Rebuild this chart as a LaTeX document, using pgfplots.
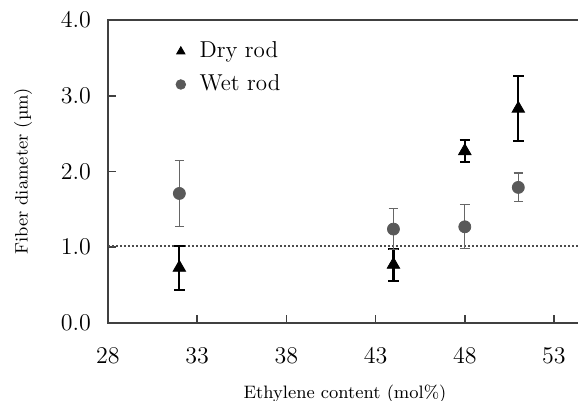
\documentclass[border=0pt]{standalone}
\usepackage{fontspec}
\usepackage{pgfplots}
\pgfplotsset{compat=1.18}

\begin{document}
\begin{tikzpicture}
% page size: 578x401 px at 0.5pt per px, axis box starts at (0,0)
\useasboundingbox (-54pt,-39pt) rectangle (235pt,161.5pt);
\begin{axis}[
    scale only axis,
    width=237pt, height=151.5pt,
    xmin=28, xmax=54.57,
    ymin=0, ymax=4,
    xtick={28,33,38,43,48,53},
    ytick={0,1,2,3,4},
    yticklabel style={xshift=-5pt, /pgf/number format/.cd, fixed, fixed zerofill, precision=1},
    tick align=inside,
    major tick length=4pt,
    xtick pos=bottom, ytick pos=left,
    axis line style={line width=0.9pt, black!75},
    tick style={line width=0.8pt, black!75},
    tick label style={font=\fontsize{11.5}{13}\selectfont},
    xticklabel style={yshift=-9pt},
    xlabel={Ethylene content (mol\%)},
    ylabel={Fiber diameter (µm)},
    label style={font=\small},
    xlabel style={yshift=-4pt},
    ylabel style={yshift=7.5pt},
    legend style={draw=none, fill=none, at={(0.13,0.955)}, anchor=north west,
        row sep=3pt, column sep=5pt, font=\fontsize{11.5}{13}\selectfont},
    legend image post style={mark size=2.4pt},
    legend cell align=left,
    clip=false,
]
\addplot[forget plot, densely dotted, line width=1pt, black!70] coordinates {(28,1.02) (54.4,1.02)};

\addplot[only marks, mark=triangle*, mark size=3.6pt, black,
    error bars/.cd, y dir=both, y explicit,
    error bar style={line width=1.1pt, black},
    error mark options={rotate=90, mark size=2.6pt, line width=1pt, black}]
coordinates {
    (32,0.73) +- (0,0.29)
    (44,0.77) +- (0,0.21)
    (48,2.27) +- (0,0.15)
    (51,2.83) +- (0,0.43)
};
\addlegendentry{Dry rod}

\addplot[only marks, mark=*, mark size=3pt, black!65, mark options={fill=black!65, draw=black!65},
    error bars/.cd, y dir=both, y explicit,
    error bar style={line width=0.6pt, black!60},
    error mark options={rotate=90, mark size=2.4pt, line width=0.6pt, black!60}]
coordinates {
    (32,1.71) +- (0,0.44)
    (44,1.24) +- (0,0.27)
    (48,1.27) +- (0,0.29)
    (51,1.79) +- (0,0.19)
};
\addlegendentry{Wet rod}
\end{axis}
\end{tikzpicture}
\end{document}
